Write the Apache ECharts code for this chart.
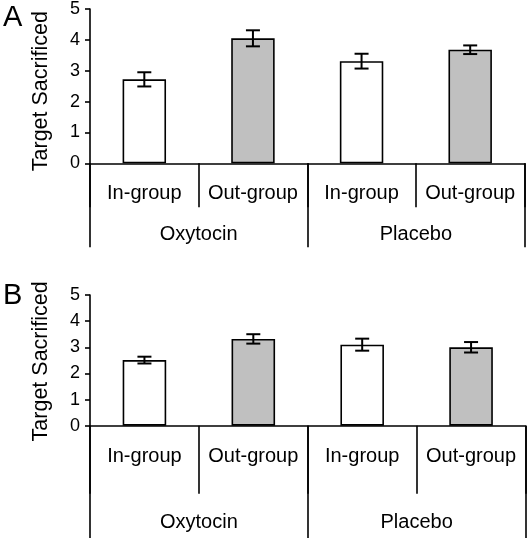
<!DOCTYPE html>
<html>
<head>
<meta charset="utf-8">
<script src="https://cdn.jsdelivr.net/npm/echarts@6/dist/echarts.min.js"></script>
<style>
html,body{margin:0;padding:0;background:#fff;}
#chart{width:529px;height:538px;}
</style>
</head>
<body>
<div id="chart"></div>
<script>
// ---- data ----
var subCategories = ['In-group', 'Out-group', 'In-group', 'Out-group'];
var groups = ['Oxytocin', 'Placebo'];
var yTicks = [0, 1, 2, 3, 4, 5];
var panelLabels = ['A', 'B'];
var meansA = [2.72, 4.05, 3.31, 3.68];
var errA   = [0.23, 0.26, 0.24, 0.14];
var meansB = [2.51, 3.32, 3.10, 3.00];
var errB   = [0.13, 0.18, 0.23, 0.20];
var yTitle = 'Target Sacrificed';

var FONT = '"Liberation Sans", Arial, sans-serif';
var fills = ['#ffffff', '#c0c0c0'];

function errData(m, e) {
  return m.map(function (v, i) { return [i, v - e[i], v + e[i]]; });
}
function renderErr(params, api) {
  var x = api.value(0);
  var lo = api.coord([x, api.value(1)]);
  var hi = api.coord([x, api.value(2)]);
  var hw = 7;
  var st = { stroke: '#000', lineWidth: 2 };
  return {
    type: 'group',
    children: [
      { type: 'line', shape: { x1: hi[0], y1: hi[1], x2: lo[0], y2: lo[1] }, style: st },
      { type: 'line', shape: { x1: hi[0] - hw, y1: hi[1], x2: hi[0] + hw, y2: hi[1] }, style: st },
      { type: 'line', shape: { x1: lo[0] - hw, y1: lo[1], x2: lo[0] + hw, y2: lo[1] }, style: st }
    ]
  };
}

function subAxis(gi, tickLen, margin) {
  return {
    type: 'category', gridIndex: gi, data: subCategories, position: 'bottom', offset: 0,
    boundaryGap: true,
    axisLine: { show: true, lineStyle: { color: '#000', width: 1.6 } },
    axisTick: { show: true, interval: 0, length: tickLen, lineStyle: { color: '#000', width: 1.6 } },
    axisLabel: { interval: 0, margin: margin, color: '#000', fontSize: 20, fontFamily: FONT },
    splitLine: { show: false }
  };
}
function groupAxis(gi, tickLen, margin) {
  return {
    type: 'category', gridIndex: gi, data: groups, position: 'bottom', offset: 0,
    boundaryGap: true,
    axisLine: { show: false },
    axisTick: { show: true, interval: 0, length: tickLen, lineStyle: { color: '#000', width: 1.6 } },
    axisLabel: { interval: 0, margin: margin, color: '#000', fontSize: 20, fontFamily: FONT },
    splitLine: { show: false }
  };
}
function yAx(gi, pad) {
  return {
    type: 'value', gridIndex: gi, min: yTicks[0], max: yTicks[yTicks.length - 1], interval: 1,
    name: yTitle, nameLocation: 'middle', nameGap: 38,
    nameTextStyle: { color: '#000', fontSize: 21.5, fontFamily: FONT, padding: [0, pad, 0, 0] },
    axisLine: { show: true, lineStyle: { color: '#000', width: 1.6 } },
    axisTick: { show: true, length: 5, lineStyle: { color: '#000', width: 1.6 } },
    axisLabel: { margin: 10, color: '#000', fontSize: 18, fontFamily: FONT },
    splitLine: { show: false }
  };
}
function barSeries(xi, yi, data) {
  return {
    type: 'bar', xAxisIndex: xi, yAxisIndex: yi, data: data, barWidth: '40%',
    itemStyle: {
      color: function (p) { return fills[p.dataIndex % 2]; },
      borderColor: '#000', borderWidth: 1.6
    },
    silent: true, animation: false
  };
}
function errSeries(xi, yi, m, e) {
  return {
    type: 'custom', xAxisIndex: xi, yAxisIndex: yi, data: errData(m, e),
    renderItem: renderErr, z: 10, silent: true, animation: false
  };
}

var chart = echarts.init(document.getElementById('chart'), null, { renderer: 'canvas' });
chart.setOption({
  backgroundColor: '#fff',
  animation: false,
  textStyle: { fontFamily: FONT },
  grid: [
    { left: 90, right: 4.5, top: 8.3, height: 155 },
    { left: 90, right: 3.5, top: 295, height: 130.7 }
  ],
  xAxis: [
    subAxis(0, 44, 20), groupAxis(0, 84, 61),
    subAxis(1, 68, 21), groupAxis(1, 113, 87)
  ],
  yAxis: [yAx(0, 10), yAx(1, 2)],
  graphic: [
    { type: 'text', left: 3, top: 3, style: { text: panelLabels[0], font: '29px ' + FONT, fill: '#000' } },
    { type: 'text', left: 3, top: 281, style: { text: panelLabels[1], font: '29px ' + FONT, fill: '#000' } }
  ],
  series: [
    barSeries(0, 0, meansA), errSeries(0, 0, meansA, errA),
    barSeries(2, 1, meansB), errSeries(2, 1, meansB, errB)
  ]
});
</script>
</body>
</html>
